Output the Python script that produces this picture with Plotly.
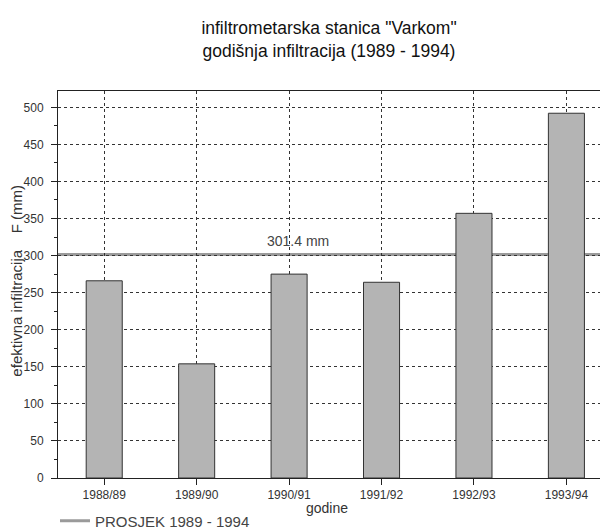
import plotly.graph_objects as go

categories = ["1988/89", "1989/90", "1990/91", "1991/92", "1992/93", "1993/94"]
infiltration = [266, 154, 275, 264, 357, 492]
average_value = 301.4
average_label = "301.4 mm"
legend_name = "PROSJEK 1989 - 1994"
y_title = "efektivna infiltracija&nbsp;&nbsp;&nbsp;&nbsp;F (mm)"
x_title = "godine"

FONT = "Liberation Sans, Arial, sans-serif"

# the page body adds an 8px offset, so the figure is 600x523 to fill 608x531
W, H = 600, 523
ML, MR, MT, MB = 50, 0, 83, 53
pw = W - ML - MR
ph = H - MT - MB

fig = go.Figure()

fig.add_trace(go.Bar(
    x=categories, y=infiltration, width=0.39,
    marker=dict(color="#b4b4b4", line=dict(color="#333333", width=1)),
    showlegend=False, hoverinfo="x+y",
))

# legend entry for the average line
fig.add_trace(go.Scatter(
    x=[None], y=[None], mode="lines", name=legend_name,
    line=dict(color="#9a9a9a", width=3),
))

fig.add_shape(type="line", xref="paper", x0=0, x1=1, yref="y",
              y0=average_value, y1=average_value,
              line=dict(color="#9a9a9a", width=3), layer="between")

fig.add_annotation(x=2.1, y=average_value, xref="x", yref="y",
                   text=average_label, showarrow=False, yanchor="bottom",
                   yshift=4, font=dict(family=FONT, size=14, color="#444444"))

fig.add_annotation(x=(9 - ML) / pw, y=0.51, xref="paper", yref="paper",
                   text=y_title, textangle=-90, showarrow=False,
                   xanchor="center", yanchor="middle",
                   font=dict(family=FONT, size=15, color="#333333"))

fig.add_annotation(x=(319 - ML) / pw, y=-(500 - (H - MB)) / ph, xref="paper", yref="paper",
                   text=x_title, showarrow=False,
                   xanchor="center", yanchor="middle",
                   font=dict(family=FONT, size=14, color="#333333"))

fig.update_layout(
    width=W, height=H,
    margin=dict(l=ML, r=MR, t=MT, b=MB, autoexpand=False),
    paper_bgcolor="white", plot_bgcolor="white",
    font=dict(family=FONT, color="#333333"),
    title=dict(text="infiltrometarska stanica \"Varkom\"<br>godišnja infiltracija (1989 - 1994)",
               x=321/W, xanchor="center", xref="container",
               y=1-26/H, yanchor="middle", yref="container",
               font=dict(family=FONT, size=17.5, color="#111111")),
    showlegend=True,
    legend=dict(orientation="h", x=47/W, xref="container", xanchor="left",
                y=1-513/H, yref="container", yanchor="middle",
                font=dict(family=FONT, size=15, color="#444444"),
                bgcolor="rgba(0,0,0,0)"),
    bargap=0.6,
)

fig.update_xaxes(
    range=[-0.5, 5.45], type="category", automargin=False,
    showline=True, linecolor="#222222", linewidth=1, mirror=True,
    ticks="outside", ticklen=6, tickcolor="#222222",
    tickfont=dict(family=FONT, size=12, color="#333333"),
    showgrid=True, gridcolor="#333333", gridwidth=1, griddash="3px,3px",
)
fig.update_yaxes(
    range=[0, 522], dtick=50, tick0=0, automargin=False,
    showline=True, linecolor="#222222", linewidth=1,
    ticks="outside", ticklen=6, tickcolor="#222222", ticklabelstandoff=5,
    minor=dict(ticks="outside", dtick=25, ticklen=3, tickcolor="#222222", showgrid=False),
    tickfont=dict(family=FONT, size=12, color="#333333"),
    showgrid=True, gridcolor="#333333", gridwidth=1, griddash="3px,3px",
    zeroline=False,
)

fig.write_html("out.html")
